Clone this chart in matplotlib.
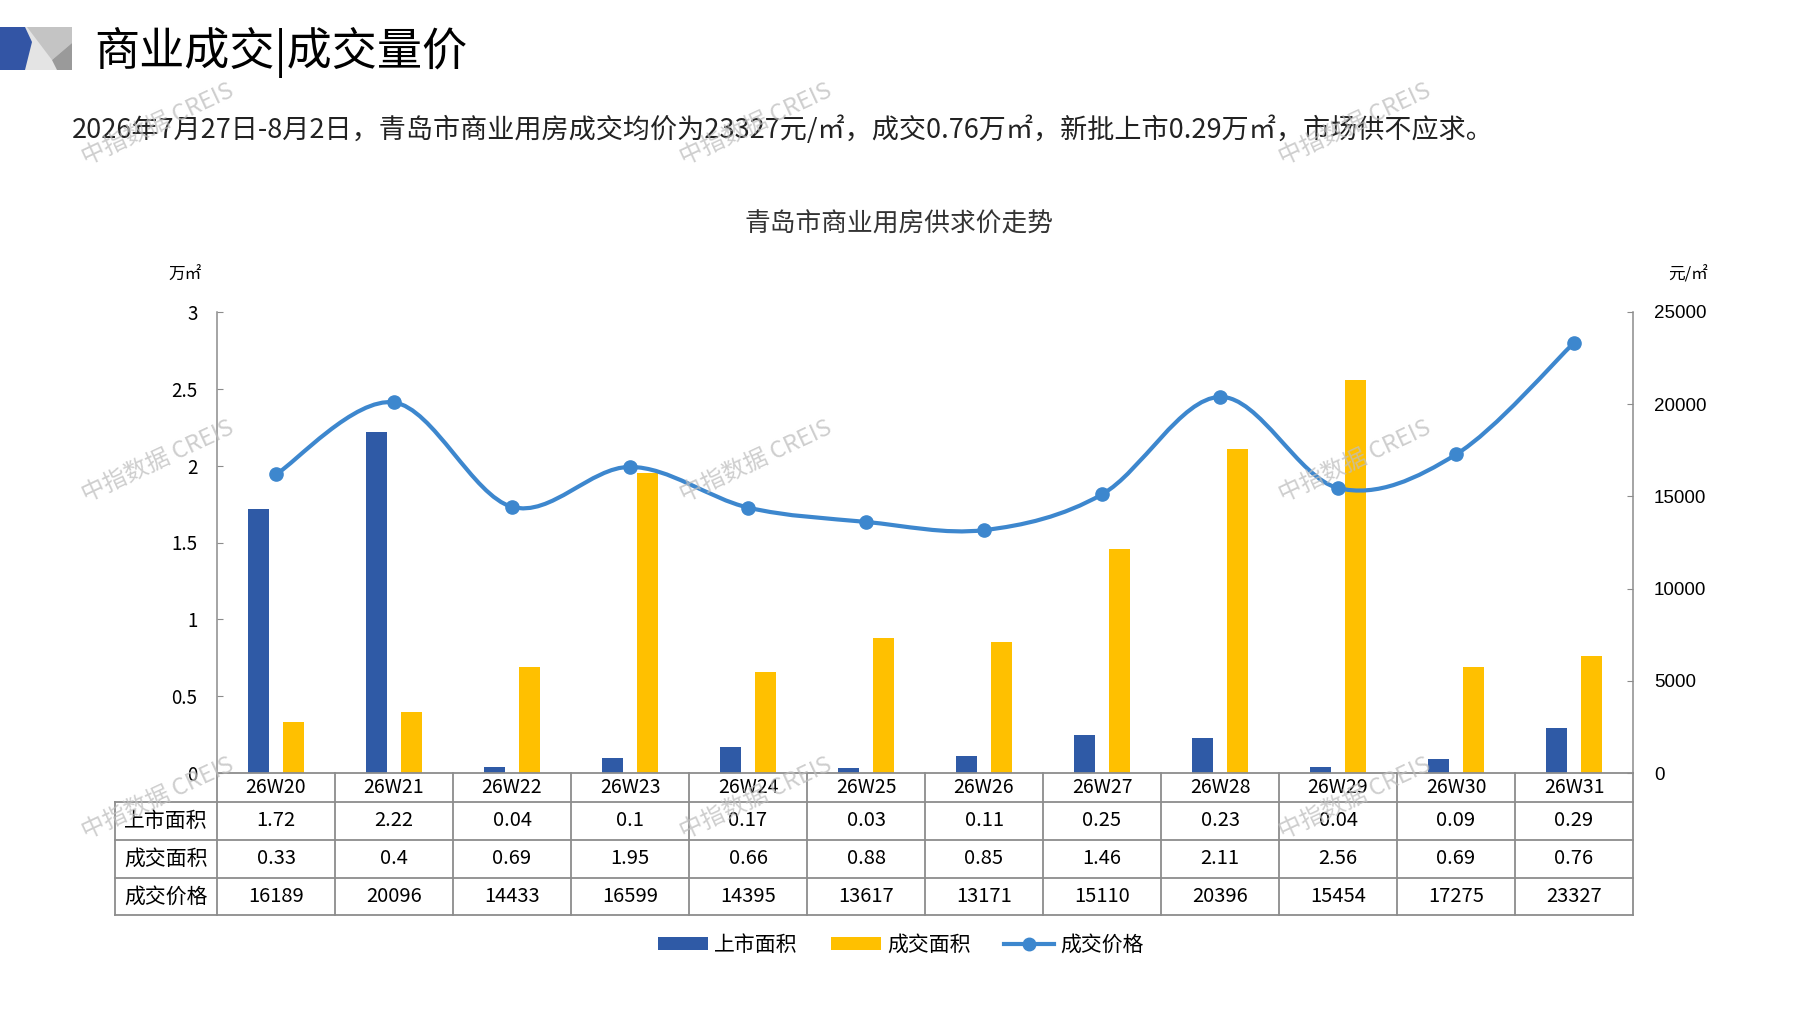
import numpy as np
import matplotlib
matplotlib.use('Agg')
import matplotlib.pyplot as plt
from matplotlib.path import Path
from matplotlib.patches import PathPatch, Polygon, Patch
from matplotlib.lines import Line2D

plt.rcParams['font.family'] = ['Noto Sans CJK SC', 'DejaVu Sans']

semanas = ['26W20', '26W21', '26W22', '26W23', '26W24', '26W25',
           '26W26', '26W27', '26W28', '26W29', '26W30', '26W31']
area_oferta = [1.72, 2.22, 0.04, 0.1, 0.17, 0.03, 0.11, 0.25, 0.23, 0.04, 0.09, 0.29]
area_venta = [0.33, 0.4, 0.69, 1.95, 0.66, 0.88, 0.85, 1.46, 2.11, 2.56, 0.69, 0.76]
precio = [16189, 20096, 14433, 16599, 14395, 13617, 13171, 15110, 20396, 15454, 17275, 23327]
series = ['上市面积', '成交面积', '成交价格']

AZUL = '#2F5AA6'
AMARILLO = '#FFC000'
LINEA = '#3D87CE'
GRIS = '#8C8C8C'

W, H = 1797, 1010
fig = plt.figure(figsize=(W / 100, H / 100), dpi=100)


def fx(px):
    return px / W


def fy(py):
    return 1 - py / H


# icono de la cabecera
for pts, col in [
    ([(22, 27), (72, 27), (72, 70), (22, 70)], '#E4E4E4'),
    ([(27, 27), (72, 27), (72, 43), (52, 60)], '#C4C4C4'),
    ([(72, 43), (52, 60), (57, 70), (72, 70)], '#9A9A9A'),
    ([(0, 27), (25, 27), (32, 42), (25, 70), (0, 70)], '#3355A5'),
]:
    fig.patches.append(Polygon([(fx(a), fy(b)) for a, b in pts], closed=True,
                               facecolor=col, edgecolor='none',
                               transform=fig.transFigure))

fig.text(fx(94), fy(52), '商业成交|成交量价', fontsize=32.5, va='center', color='black')
fig.text(fx(72), fy(130),
         '2026年7月27日-8月2日，青岛市商业用房成交均价为23327元/㎡，成交0.76万㎡，'
         '新批上市0.29万㎡，市场供不应求。',
         fontsize=19.5, va='center', color='#222222')
fig.text(fx(899), fy(225), '青岛市商业用房供求价走势', fontsize=18.5,
         ha='center', va='center', color='#333333')
fig.text(fx(185), fy(275), '万㎡', fontsize=12, ha='center', va='center')
fig.text(fx(1688), fy(275), '元/㎡', fontsize=12, ha='center', va='center')

# ejes principales (barras)
ax = fig.add_axes([fx(217), fy(773), 1416 / W, (773 - 312) / H])
x = np.arange(len(semanas))
ancho = 0.178
ax.bar(x - 0.145, area_oferta, width=ancho, color=AZUL, zorder=2)
ax.bar(x + 0.145, area_venta, width=ancho, color=AMARILLO, zorder=2)
ax.set_xlim(-0.5, len(semanas) - 0.5)
ax.set_ylim(0, 3)
ax.set_yticks(np.arange(0, 3.01, 0.5))
ax.set_yticklabels(['0', '0.5', '1', '1.5', '2', '2.5', '3'])
ax.set_xticks([])
for s in ['top', 'right', 'bottom']:
    ax.spines[s].set_visible(False)
ax.spines['left'].set_color(GRIS)
ax.spines['left'].set_linewidth(1.1)
ax.tick_params(axis='y', direction='in', length=4, color=GRIS,
               labelsize=13.5, pad=14)

# eje secundario (precio, linea suavizada tipo Excel)
ax2 = ax.twinx()
ax2.set_ylim(0, 25000)
ax2.set_yticks(np.arange(0, 25001, 5000))
for s in ['top', 'left', 'bottom']:
    ax2.spines[s].set_visible(False)
ax2.spines['right'].set_color(GRIS)
ax2.spines['right'].set_linewidth(1.1)
ax2.tick_params(axis='y', direction='in', length=4, color=GRIS,
                labelsize=13.5, pad=15)
for t in ax2.get_yticklabels():
    t.set_family('Liberation Sans')

P = np.column_stack([x, precio]).astype(float)
verts = [P[0]]
codes = [Path.MOVETO]
n = len(P)
for i in range(n - 1):
    p0 = P[i - 1] if i > 0 else P[i]
    p3 = P[i + 2] if i + 2 < n else P[i + 1]
    c1 = P[i] + (P[i + 1] - p0) / 6
    c2 = P[i + 1] - (p3 - P[i]) / 6
    verts += [c1, c2, P[i + 1]]
    codes += [Path.CURVE4] * 3
ax2.add_patch(PathPatch(Path(verts, codes), facecolor='none', edgecolor=LINEA,
                        lw=3, zorder=3, capstyle='round'))
ax2.plot(x, precio, 'o', color=LINEA, markersize=9.5, zorder=4)

# tabla de datos bajo el grafico
ax_t = fig.add_axes([fx(114.7), fy(915), (1633 - 114.7) / W, (915 - 773) / H])
ax_t.axis('off')
x_izq = -0.5 - 102.3 / 118
ax_t.set_xlim(x_izq, len(semanas) - 0.5)
ax_t.set_ylim(142, 0)
filas = [0, 29, 67, 105, 142]
kw = dict(color=GRIS, lw=1.3, clip_on=False, solid_capstyle='projecting')
ax_t.plot([-0.5, len(semanas) - 0.5], [0, 0], **kw)
for yy in filas[1:]:
    ax_t.plot([x_izq, len(semanas) - 0.5], [yy, yy], **kw)
for k in range(len(semanas) + 1):
    ax_t.plot([k - 0.5, k - 0.5], [0, 142], **kw)
ax_t.plot([x_izq, x_izq], [29, 142], **kw)

for i, s in enumerate(semanas):
    ax_t.text(i, 14.5, s, ha='center', va='center', fontsize=14)
valores = [area_oferta, area_venta, precio]
for r, (nombre, vals) in enumerate(zip(series, valores)):
    ym = (filas[r + 1] + filas[r + 2]) / 2
    ax_t.text((x_izq - 0.5) / 2, ym, nombre, ha='center', va='center', fontsize=15)
    for i, v in enumerate(vals):
        ax_t.text(i, ym, str(v), ha='center', va='center', fontsize=14.5)

# leyenda
manejadores = [Patch(facecolor=AZUL), Patch(facecolor=AMARILLO),
               Line2D([], [], color=LINEA, lw=3, marker='o', markersize=9)]
fig.legend(manejadores, series, loc='center', bbox_to_anchor=(fx(901), fy(945)),
           ncol=3, frameon=False, fontsize=15, handlelength=2.4,
           handleheight=0.6, columnspacing=1.6, handletextpad=0.3)

# marcas de agua
for wx in [158, 756, 1355]:
    for wy in [124, 461, 798]:
        fig.text(fx(wx), fy(wy), '中指数据 CREIS', fontsize=17, rotation=25,
                 color='#BEBEBE', alpha=0.75, ha='center', va='center', zorder=10)

fig.savefig('out.png', dpi=100)
